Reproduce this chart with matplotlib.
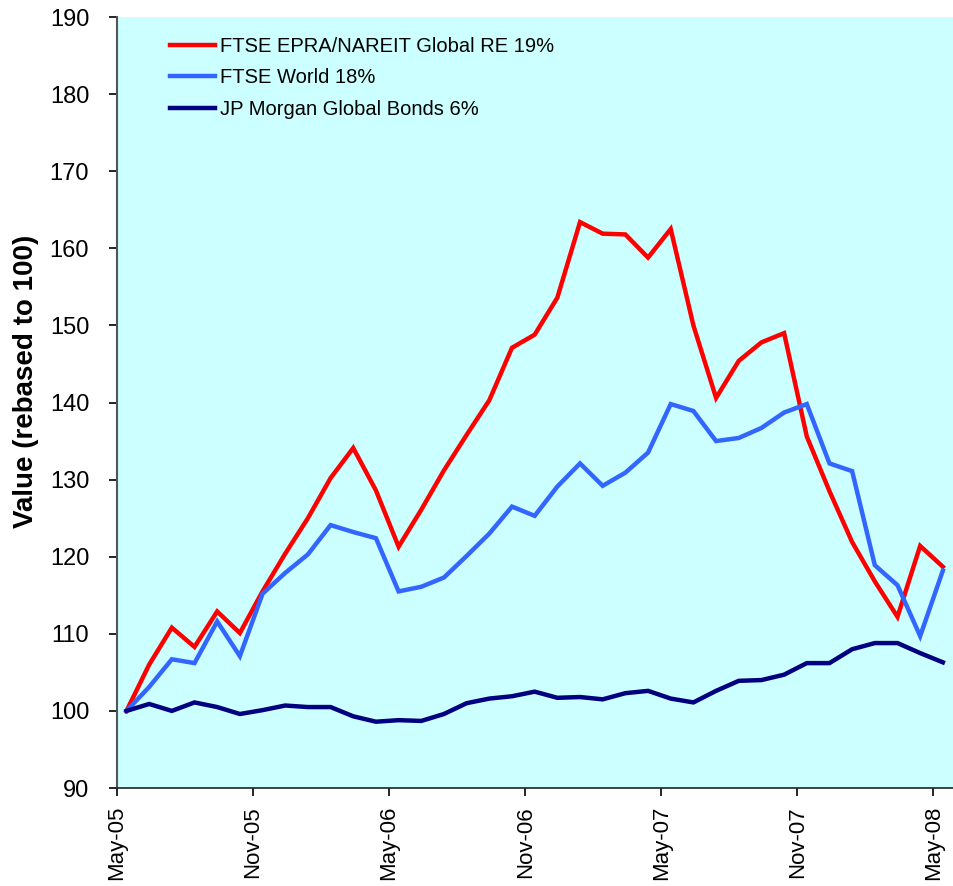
import numpy as np
import matplotlib
matplotlib.use("Agg")
import matplotlib.pyplot as plt

plt.rcParams["font.family"] = ["Liberation Sans", "DejaVu Sans"]

# monthly index values, May-05 .. May-08 (rebased to 100)
reits = [100.0, 106.0, 110.8, 108.3, 112.9, 110.1, 115.5, 120.4, 125.0, 130.2,
         134.1, 128.6, 121.3, 126.1, 131.2, 135.8, 140.3, 147.1, 148.8, 153.6,
         163.4, 161.9, 161.8, 158.8, 162.5, 150.0, 140.6, 145.4, 147.8, 149.0,
         135.6, 128.5, 121.9, 116.8, 112.2, 121.4, 118.7]
world = [100.0, 103.1, 106.7, 106.2, 111.6, 107.1, 115.2, 117.9, 120.3, 124.1,
         123.2, 122.4, 115.5, 116.1, 117.3, 120.1, 123.0, 126.5, 125.3, 129.1,
         132.1, 129.2, 130.9, 133.5, 139.8, 138.9, 135.0, 135.4, 136.7, 138.7,
         139.8, 132.1, 131.1, 118.9, 116.3, 109.7, 118.2]
bonds = [100.0, 100.9, 100.0, 101.1, 100.5, 99.6, 100.1, 100.7, 100.5, 100.5,
         99.3, 98.6, 98.8, 98.7, 99.6, 101.0, 101.6, 101.9, 102.5, 101.7,
         101.8, 101.5, 102.3, 102.6, 101.6, 101.1, 102.6, 103.9, 104.0, 104.7,
         106.2, 106.2, 108.0, 108.8, 108.8, 107.5, 106.3]

series_names = ["FTSE EPRA/NAREIT Global RE 19%", "FTSE World 18%",
                "JP Morgan Global Bonds 6%"]
series_colors = ["#FF0000", "#3366FF", "#000080"]
tick_labels = ["May-05", "Nov-05", "May-06", "Nov-06", "May-07", "Nov-07", "May-08"]

months = np.arange(len(reits))

fig = plt.figure(figsize=(9.54, 8.86), dpi=100)
ax = fig.add_axes([0.1226, 0.1106, 0.8764, 0.8702])
ax.set_facecolor("#CCFFFF")

for vals, name, col in zip([reits, world, bonds], series_names, series_colors):
    ax.plot(months, vals, color=col, lw=3.2, label=name, solid_joinstyle="miter")

ax.set_xlim(-0.42, 36.45)
ax.set_ylim(90, 190)
ax.set_yticks(np.arange(90, 191, 10))
ax.set_xticks(np.arange(len(tick_labels)) * 6 - 0.42)
ax.set_xticklabels(tick_labels, rotation=90, fontsize=16)
ax.tick_params(axis="y", labelsize=17, length=6, width=1.2, direction="out", pad=14)
ax.tick_params(axis="x", length=6, width=1.2, direction="out", pad=7)

ax.set_ylabel("Value (rebased to 100)", fontsize=20, fontweight="bold")
ax.yaxis.set_label_coords(-0.093, 0.527)

for side in ["top", "right"]:
    ax.spines[side].set_visible(False)
ax.spines["left"].set_color("#555555")
ax.spines["left"].set_linewidth(1.5)
ax.spines["bottom"].set_color("#222222")
ax.spines["bottom"].set_linewidth(1.2)

ax.legend(loc="upper left", bbox_to_anchor=(0.042, 0.998), frameon=False,
          fontsize=14.5, handlelength=2.2, handletextpad=0.25, labelspacing=0.62)

fig.savefig("out.png", dpi=100)
